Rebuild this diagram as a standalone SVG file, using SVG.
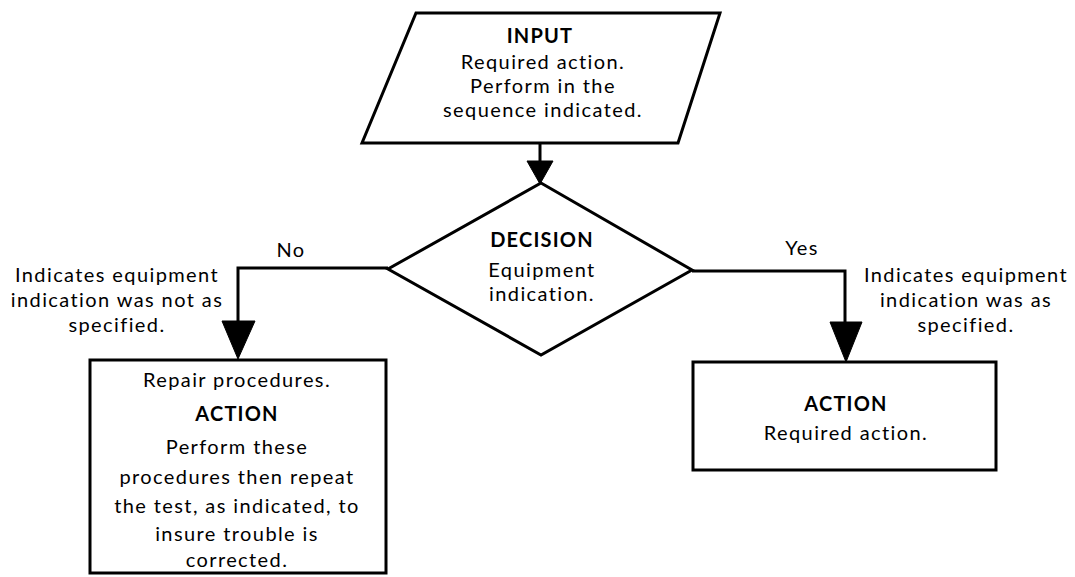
<svg xmlns="http://www.w3.org/2000/svg" width="1075" height="577" viewBox="0 0 1075 577">
<style>
.shape{fill:#fff;stroke:#000;stroke-width:3;stroke-linejoin:miter}
.line{fill:none;stroke:#000;stroke-width:3}
.head{fill:#000;stroke:#000;stroke-width:1}
text{font-family:Lato,"Open Sans",sans-serif;font-size:20px;letter-spacing:1.4px;fill:#000;text-anchor:middle}
.h{font-weight:bold;font-size:20px;letter-spacing:1.2px}
</style>
<rect width="1075" height="577" fill="#fff"/>
<g id="connectors">
<line class="line" x1="540" y1="143" x2="540" y2="165"/>
<polygon class="head" points="527,161 553,161 540,184"/>
<polyline class="line" points="388,268 238,268 238,325"/>
<polygon class="head" points="222,321 255,321 238,359"/>
<polyline class="line" points="692,271 845,271 845,325"/>
<polygon class="head" points="830,322 862,322 846,362"/>
<text x="291" y="257">No</text>
<text x="802" y="255">Yes</text>
</g>
<g id="input">
<polygon class="shape" points="416,13 720,13 678,143 362,143"/>
<text class="h" x="540" y="43">INPUT</text>
<text x="543" y="69">Required action.</text>
<text x="543" y="93">Perform in the</text>
<text x="543" y="117">sequence indicated.</text>
</g>
<g id="decision">
<polygon class="shape" points="541,183 692,270 541,355 388,269"/>
<text class="h" x="542" y="247">DECISION</text>
<text x="542" y="277">Equipment</text>
<text x="542" y="301">indication.</text>
</g>
<g id="note-no">
<text x="117" y="282">Indicates equipment</text>
<text x="117" y="307">indication was not as</text>
<text x="117" y="332">specified.</text>
</g>
<g id="note-yes">
<text x="966" y="282">Indicates equipment</text>
<text x="966" y="307">indication was as</text>
<text x="966" y="332">specified.</text>
</g>
<g id="action-repair">
<rect class="shape" x="90" y="360" width="296" height="213"/>
<text x="237" y="387">Repair procedures.</text>
<text class="h" x="237" y="421">ACTION</text>
<text x="237" y="454">Perform these</text>
<text x="237" y="484">procedures then repeat</text>
<text x="237" y="513">the test, as indicated, to</text>
<text x="237" y="541">insure trouble is</text>
<text x="237" y="567">corrected.</text>
</g>
<g id="action-yes">
<rect class="shape" x="693" y="362" width="303" height="108"/>
<text class="h" x="846" y="411">ACTION</text>
<text x="846" y="440">Required action.</text>
</g>
</svg>
